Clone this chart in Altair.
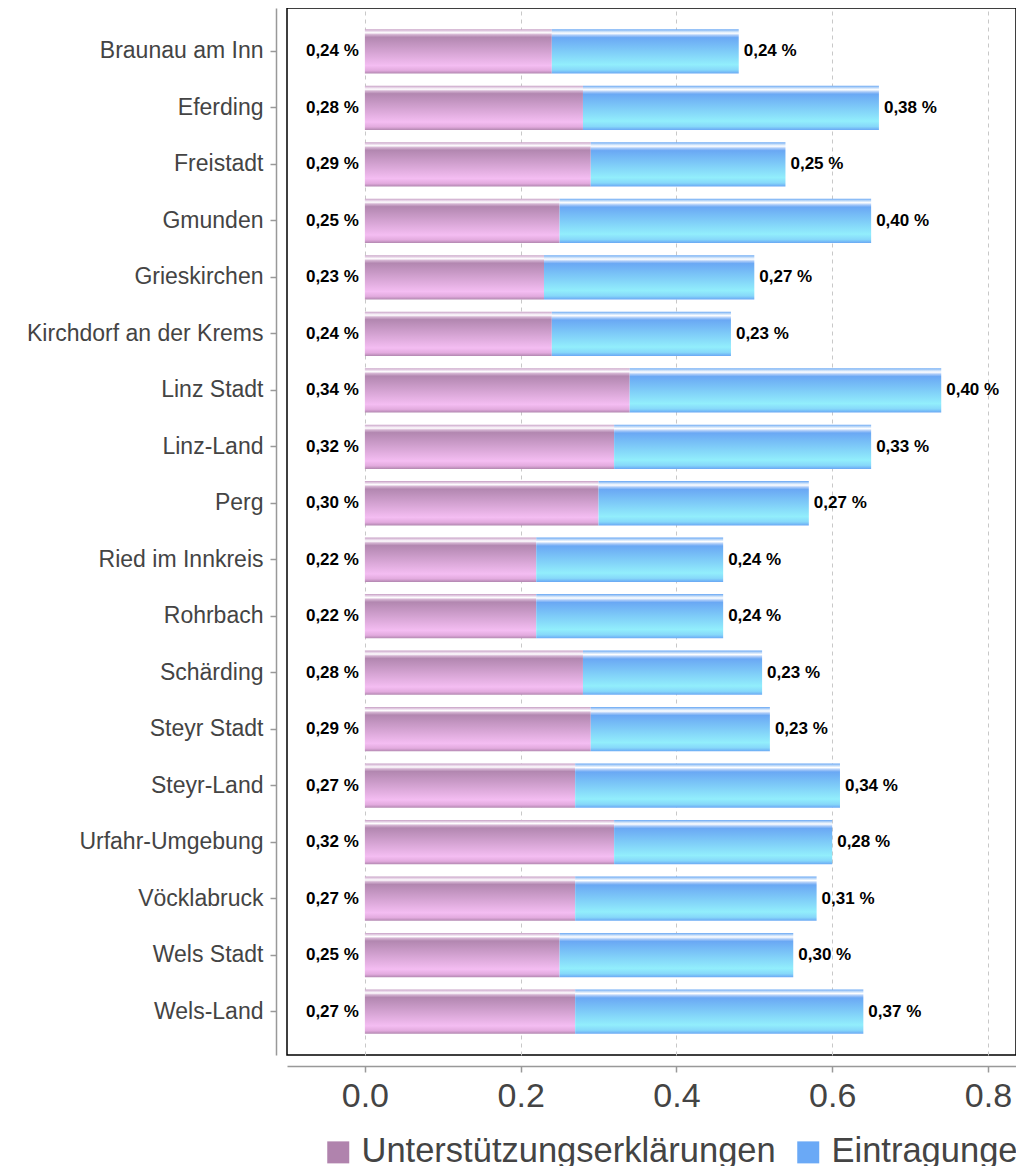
import altair as alt
import pandas as pd

districts = [
    "Braunau am Inn", "Eferding", "Freistadt", "Gmunden", "Grieskirchen",
    "Kirchdorf an der Krems", "Linz Stadt", "Linz-Land", "Perg",
    "Ried im Innkreis", "Rohrbach", "Schärding", "Steyr Stadt", "Steyr-Land",
    "Urfahr-Umgebung", "Vöcklabruck", "Wels Stadt", "Wels-Land",
]
unterstuetzung = [0.24, 0.28, 0.29, 0.25, 0.23, 0.24, 0.34, 0.32, 0.30,
                  0.22, 0.22, 0.28, 0.29, 0.27, 0.32, 0.27, 0.25, 0.27]
eintragungen = [0.24, 0.38, 0.25, 0.40, 0.27, 0.23, 0.40, 0.33, 0.27,
                0.24, 0.24, 0.23, 0.23, 0.34, 0.28, 0.31, 0.30, 0.37]
series = ["Unterstützungserklärungen", "Eintragungen"]
series_colors = ["#b083ad", "#6aa9f6"]
x_ticks = [0.0, 0.2, 0.4, 0.6, 0.8]

df = pd.DataFrame({"Bezirk": districts, "U": unterstuetzung, "E": eintragungen})

FONT = "Liberation Sans"

grad_p = alt.Gradient(
    gradient="linear", x1=0, x2=0, y1=0, y2=1,
    stops=[
        alt.GradientStop(color="#c7a0c5", offset=0.0),
        alt.GradientStop(color="#e6d2e6", offset=0.04),
        alt.GradientStop(color="#ffffff", offset=0.08),
        alt.GradientStop(color="#d4b4d2", offset=0.12),
        alt.GradientStop(color="#b287b0", offset=0.18),
        alt.GradientStop(color="#f4bdf2", offset=0.82),
        alt.GradientStop(color="#e2aade", offset=0.93),
        alt.GradientStop(color="#b287b0", offset=1.0),
    ],
)
grad_b = alt.Gradient(
    gradient="linear", x1=0, x2=0, y1=0, y2=1,
    stops=[
        alt.GradientStop(color="#6aa8f4", offset=0.0),
        alt.GradientStop(color="#c6def9", offset=0.05),
        alt.GradientStop(color="#ffffff", offset=0.09),
        alt.GradientStop(color="#a6c8f8", offset=0.14),
        alt.GradientStop(color="#6aa8f4", offset=0.19),
        alt.GradientStop(color="#92eefc", offset=0.80),
        alt.GradientStop(color="#86d8fa", offset=0.92),
        alt.GradientStop(color="#6aa8f4", offset=1.0),
    ],
)

x_scale = alt.Scale(domain=[-0.1, 0.836], nice=False, zero=False)
x_axis = alt.Axis(
    values=x_ticks, format=".1f", title=None, grid=True,
    gridDash=[4, 4], gridColor="#c8c8c8", gridWidth=1,
    labelFontSize=34, labelColor="#444444", labelFont=FONT,
    domainColor="#999999", domainWidth=1.5, tickColor="#999999",
    tickWidth=1.5, tickSize=6, offset=11, labelPadding=7,
)
y_enc = alt.Y(
    "Bezirk:N", sort=districts, title=None,
    scale=alt.Scale(paddingInner=0.216, paddingOuter=0.376),
    axis=alt.Axis(
        labelFontSize=23, labelColor="#444444", labelFont=FONT,
        domainColor="#999999", domainWidth=1.5, tickColor="#999999",
        tickWidth=1.5, tickSize=6, offset=11, labelPadding=7, grid=False,
        labelLimit=400,
    ),
)


def xenc(field):
    return alt.X(field, scale=x_scale, axis=x_axis, title=None)


base = alt.Chart(df).transform_calculate(
    start="0",
    total="datum.U + datum.E",
    lu="replace(format(datum.U, '.2f'), '.', ',') + ' %'",
    le="replace(format(datum.E, '.2f'), '.', ',') + ' %'",
)

bars_u = base.mark_bar(fill=grad_p).encode(x=xenc("start:Q"), x2="U:Q", y=y_enc)
bars_e = base.mark_bar(fill=grad_b).encode(x=xenc("U:Q"), x2="total:Q", y=y_enc)

text_u = base.mark_text(
    align="right", baseline="middle", dx=-6, fontSize=17, fontWeight="bold",
    font=FONT, color="black",
).encode(x=xenc("start:Q"), y=y_enc, text="lu:N")
text_e = base.mark_text(
    align="left", baseline="middle", dx=5, fontSize=17, fontWeight="bold",
    font=FONT, color="black",
).encode(x=xenc("total:Q"), y=y_enc, text="le:N")

legend_layer = (
    alt.Chart(df)
    .transform_fold(["U", "E"], as_=["key", "value"])
    .transform_calculate(
        series=f"datum.key == 'U' ? '{series[0]}' : '{series[1]}'"
    )
    .mark_point(opacity=0, filled=True, shape="square")
    .encode(
        x=xenc("value:Q"),
        y=y_enc,
        color=alt.Color(
            "series:N",
            scale=alt.Scale(domain=series, range=series_colors),
            legend=alt.Legend(
                title=None, orient="none", direction="horizontal",
                legendX=34, legendY=1127, padding=0,
                symbolType="square", symbolSize=484, symbolOpacity=1,
                symbolStrokeWidth=0, labelFontSize=34.5, labelFont=FONT,
                labelColor="#444444", labelOffset=6, columnPadding=15,
                labelLimit=600,
            ),
        ),
    )
)

chart = (
    alt.layer(bars_u, bars_e, text_u, text_e, legend_layer)
    .properties(
        width=729, height=1047,
        padding={"left": 279, "top": 0, "right": 0, "bottom": 111},
        autosize=alt.AutoSizeParams(type="none"),
    )
    .configure_view(stroke="black", strokeWidth=1.5)
)

chart.save("out.html", embed_options={"renderer": "svg", "actions": False})
